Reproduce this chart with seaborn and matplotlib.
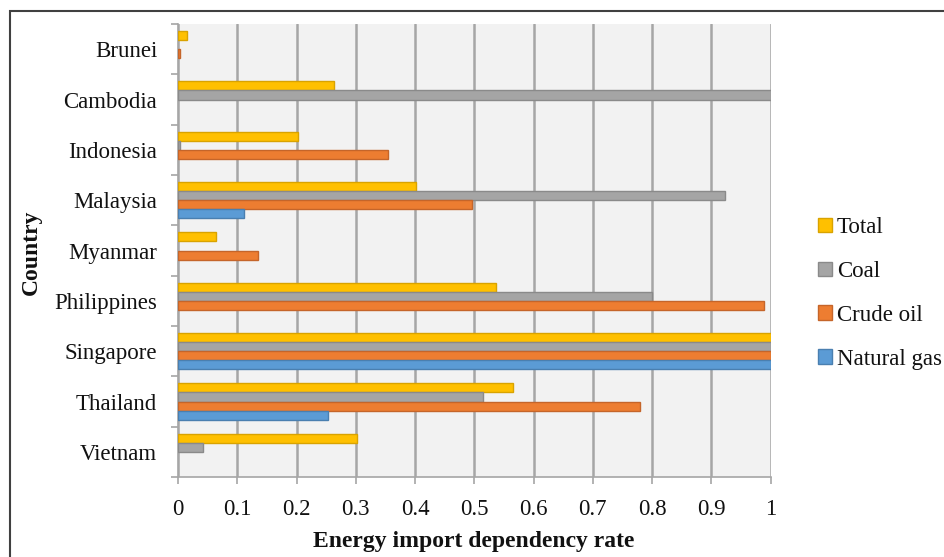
import numpy as np
import pandas as pd
import matplotlib
matplotlib.use("Agg")
import matplotlib.pyplot as plt
import seaborn as sns
from matplotlib.patches import Rectangle
from matplotlib.ticker import FixedLocator, FuncFormatter

countries = ["Brunei", "Cambodia", "Indonesia", "Malaysia", "Myanmar",
             "Philippines", "Singapore", "Thailand", "Vietnam"]
series = ["Total", "Coal", "Crude oil", "Natural gas"]
total = [0.015, 0.264, 0.202, 0.402, 0.064, 0.537, 1.0, 0.566, 0.302]
coal = [np.nan, 1.0, 0.003, 0.924, np.nan, 0.800, 1.0, 0.514, 0.043]
crude_oil = [0.004, np.nan, 0.355, 0.497, 0.135, 0.989, 1.0, 0.780, np.nan]
natural_gas = [np.nan, np.nan, np.nan, 0.111, np.nan, np.nan, 1.0, 0.254, np.nan]
x_ticks = [0, 0.1, 0.2, 0.3, 0.4, 0.5, 0.6, 0.7, 0.8, 0.9, 1]

colors = ["#FFC000", "#A5A5A5", "#ED7D31", "#5B9BD5"]
edges = ["#D9A300", "#8A8A8A", "#C5652A", "#4A7FB0"]

rows = []
for s, vals in zip(series, [total, coal, crude_oil, natural_gas]):
    for c, v in zip(countries, vals):
        rows.append({"Country": c, "Series": s, "Value": v})
df = pd.DataFrame(rows)

sns.set_theme(style="white")
plt.rcParams["font.family"] = ["Liberation Serif", "DejaVu Serif"]

FS = 16.5
fig = plt.figure(figsize=(9.44, 5.57), dpi=100)
W, H = 944, 557
ax = fig.add_axes([178 / W, 1 - 477 / H, (770.5 - 178) / W, (477 - 24) / H])
ax.set_facecolor("#F2F2F2")

sns.barplot(data=df, y="Country", x="Value", hue="Series", order=countries,
            hue_order=series, palette=colors, saturation=1, orient="h", width=0.72,
            errorbar=None, ax=ax, linewidth=1.0, zorder=3)

# bar edge colours per series
for cont, ec in zip(ax.containers, edges):
    for p in cont:
        p.set_edgecolor(ec)

ax.set_xlim(0, 1)
ax.set_ylim(len(countries) - 0.5, -0.5)
ax.set_xticks(x_ticks)
ax.xaxis.set_major_formatter(FuncFormatter(lambda v, p: f"{v:g}"))
ax.grid(axis="x", color="#A6A6A6", linewidth=1.8, zorder=0)
ax.set_axisbelow(True)

# y: labels at centers, tick marks at boundaries
ax.set_yticks(range(len(countries)))
ax.set_yticklabels(countries)
ax.yaxis.set_minor_locator(FixedLocator(np.arange(-0.5, len(countries), 1.0)))
ax.tick_params(axis="y", which="major", length=0, pad=15, labelsize=FS, labelcolor="#111111")
ax.tick_params(axis="y", which="minor", length=5, width=1.2, color="#A6A6A6", left=True)
ax.tick_params(axis="x", which="major", length=5, width=1.2, color="#A6A6A6", bottom=True,
               pad=10.5, labelsize=FS, labelcolor="#111111")

for side in ["top", "right"]:
    ax.spines[side].set_visible(False)
for side in ["left", "bottom"]:
    ax.spines[side].set_color("#A6A6A6")
    ax.spines[side].set_linewidth(1.2)

ax.set_xlabel("")
ax.set_ylabel("")
fig.text(474 / W, 1 - 541 / H, "Energy import dependency rate", ha="center", va="center",
         fontsize=17, fontweight="bold", color="#111111")
fig.text(31 / W, 1 - 252 / H, "Country", ha="center", va="center", rotation=90,
         fontsize=17, fontweight="bold", color="#111111")

# legend
handles, labels = ax.get_legend_handles_labels()
if ax.legend_:
    ax.legend_.remove()
leg = fig.legend(handles, labels, loc="center left", bbox_to_anchor=(818 / W, 1 - 293.5 / H),
                 frameon=False, fontsize=FS, handlelength=0.62, handleheight=0.62,
                 handletextpad=0.2, labelspacing=1.0, borderaxespad=0, borderpad=0)
for t in leg.get_texts():
    t.set_color("#111111")
for h, ec in zip(leg.legend_handles, edges):
    h.set_edgecolor(ec)
    h.set_linewidth(1.0)

# figure border
fig.patches.append(Rectangle((10 / W, -0.1), 1.2, 1 - 11 / H + 0.1, transform=fig.transFigure,
                             fill=False, edgecolor="#404040", linewidth=1.5, clip_on=False))

fig.savefig("out.png", dpi=100)
